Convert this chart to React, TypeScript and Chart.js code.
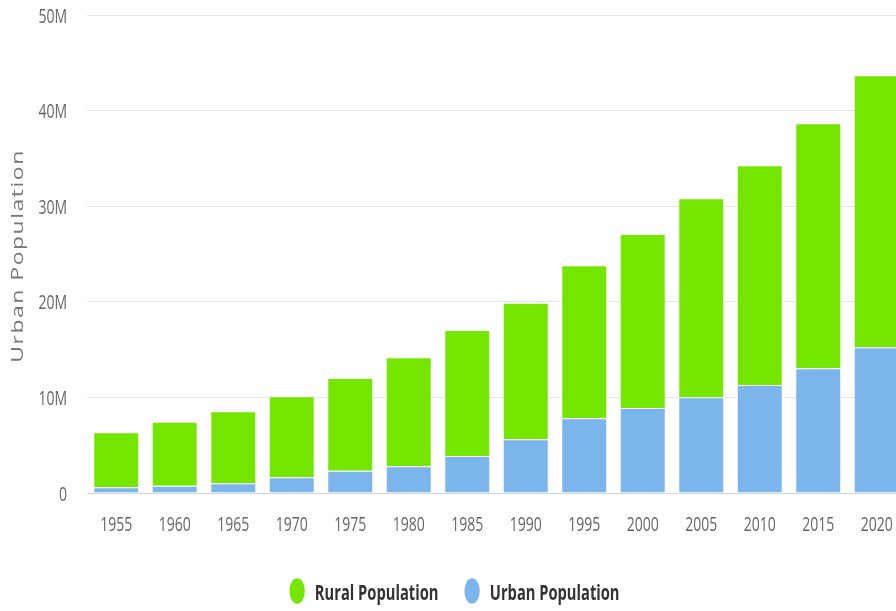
import React, { useEffect, useRef } from "react";
import { Chart, registerables } from "chart.js";

Chart.register(...registerables);

const CATEGORIES = ["1955", "1960", "1965", "1970", "1975", "1980", "1985", "1990", "1995", "2000", "2005", "2010", "2015", "2020"];
const URBAN = [0.6, 0.77, 1.01, 1.64, 2.33, 2.79, 3.87, 5.61, 7.81, 8.89, 10.01, 11.3, 13.04, 15.24].map((v) => v * 1e6);
const RURAL = [5.75, 6.69, 7.53, 8.47, 9.7, 11.4, 13.18, 14.3, 16.01, 18.2, 20.82, 22.98, 25.63, 28.45].map((v) => v * 1e6);
const Y_TICKS = [0, 10e6, 20e6, 30e6, 40e6, 50e6];
const Y_TICK_LABELS = ["0", "10M", "20M", "30M", "40M", "50M"];
const Y_TITLE = "Urban Population";
const SERIES_NAMES = ["Urban Population", "Rural Population"];
const SERIES_COLORS = ["#7cb5ec", "#74e600"];
const LEGEND_ORDER = [1, 0];

const FONT = '"Open Sans", "Noto Sans", sans-serif';
const SQUISH = 0.7;

const textPlugin = {
  id: "squishedText",
  afterDraw(chart: any) {
    const ctx = chart.ctx as CanvasRenderingContext2D;
    const area = chart.chartArea;
    const xs = chart.scales.x;
    const ys = chart.scales.y;

    // x tick labels
    ctx.save();
    ctx.fillStyle = "#666666";
    ctx.font = `20px ${FONT}`;
    ctx.textAlign = "center";
    ctx.textBaseline = "alphabetic";
    CATEGORIES.forEach((lab, i) => {
      const x = xs.getPixelForValue(i);
      ctx.save();
      ctx.translate(x, area.bottom + 38);
      ctx.scale(SQUISH, 1);
      ctx.fillText(lab, 0, 0);
      ctx.restore();
    });
    ctx.restore();

    // y tick labels
    ctx.save();
    ctx.fillStyle = "#666666";
    ctx.font = `20px ${FONT}`;
    ctx.textAlign = "right";
    ctx.textBaseline = "alphabetic";
    Y_TICKS.forEach((v, i) => {
      const y = ys.getPixelForValue(v);
      ctx.save();
      ctx.translate(67, y + 7.5);
      ctx.scale(SQUISH, 1);
      ctx.fillText(Y_TICK_LABELS[i], 0, 0);
      ctx.restore();
    });
    ctx.restore();

    // y title
    ctx.save();
    ctx.fillStyle = "#777777";
    ctx.font = `23px ${FONT}`;
    ctx.textAlign = "center";
    ctx.textBaseline = "middle";
    (ctx as any).letterSpacing = "1.5px";
    ctx.translate(18, (area.top + area.bottom) / 2 + 2);
    ctx.scale(SQUISH, 1);
    ctx.rotate(-Math.PI / 2);
    ctx.fillText(Y_TITLE, 0, 0);
    ctx.restore();

    // legend
    ctx.save();
    ctx.font = `bold 21px ${FONT}`;
    ctx.textAlign = "left";
    ctx.textBaseline = "alphabetic";
    const rx = 7.7;
    const ry = 12.8;
    const gapText = 10;
    const gapItem = 26;
    const widths = LEGEND_ORDER.map((k) => ctx.measureText(SERIES_NAMES[k]).width * SQUISH);
    const total = widths.reduce((a, w) => a + 2 * rx + gapText + w, 0) + gapItem * (widths.length - 1);
    let cx = 454.5 - total / 2;
    const cy = 591;
    LEGEND_ORDER.forEach((k, j) => {
      ctx.fillStyle = SERIES_COLORS[k];
      ctx.beginPath();
      ctx.ellipse(cx + rx, cy, rx, ry, 0, 0, Math.PI * 2);
      ctx.fill();
      cx += 2 * rx + gapText;
      ctx.fillStyle = "#333333";
      ctx.save();
      ctx.translate(cx, 600);
      ctx.scale(SQUISH, 1);
      ctx.fillText(SERIES_NAMES[k], 0, 0);
      ctx.restore();
      cx += widths[j] + gapItem;
    });
    ctx.restore();
  },
};

export default function App() {
  const ref = useRef<HTMLCanvasElement | null>(null);

  useEffect(() => {
    if (!ref.current) return;
    const chart = new Chart(ref.current, {
      type: "bar",
      data: {
        labels: CATEGORIES,
        datasets: [
          {
            label: SERIES_NAMES[0],
            data: URBAN,
            backgroundColor: SERIES_COLORS[0],
            borderColor: "#ffffff",
            borderWidth: 1,
            barPercentage: 0.786,
            categoryPercentage: 1,
          },
          {
            label: SERIES_NAMES[1],
            data: RURAL,
            backgroundColor: SERIES_COLORS[1],
            borderColor: "#ffffff",
            borderWidth: 1,
            barPercentage: 0.786,
            categoryPercentage: 1,
          },
        ],
      },
      options: {
        responsive: false,
        animation: false,
        devicePixelRatio: 1,
        layout: { padding: { top: 15, right: 8, bottom: 0, left: 0 } },
        plugins: {
          tooltip: { enabled: false },
          legend: { display: false },
        },
        scales: {
          x: {
            stacked: true,
            grid: { display: false, drawTicks: false },
            border: { display: true, color: "#ccd6eb", width: 1 },
            ticks: { display: false },
            afterFit: (scale: any) => {
              scale.height = 118;
            },
          },
          y: {
            stacked: true,
            min: 0,
            max: 50e6,
            afterBuildTicks: (scale: any) => {
              scale.ticks = Y_TICKS.map((v) => ({ value: v }));
            },
            grid: { color: "#e6e6e6", lineWidth: 1, drawTicks: false },
            border: { display: false },
            ticks: { display: false },
            afterFit: (scale: any) => {
              scale.width = 87;
            },
          },
        },
      },
      plugins: [textPlugin],
    });
    return () => chart.destroy();
  }, []);

  return (
    <div style={{ position: "fixed", left: 0, top: 0, width: 896, height: 611, overflow: "hidden", background: "#fff" }}>
      <canvas ref={ref} width={914} height={611} style={{ display: "block", width: 914, height: 611 }} />
    </div>
  );
}
